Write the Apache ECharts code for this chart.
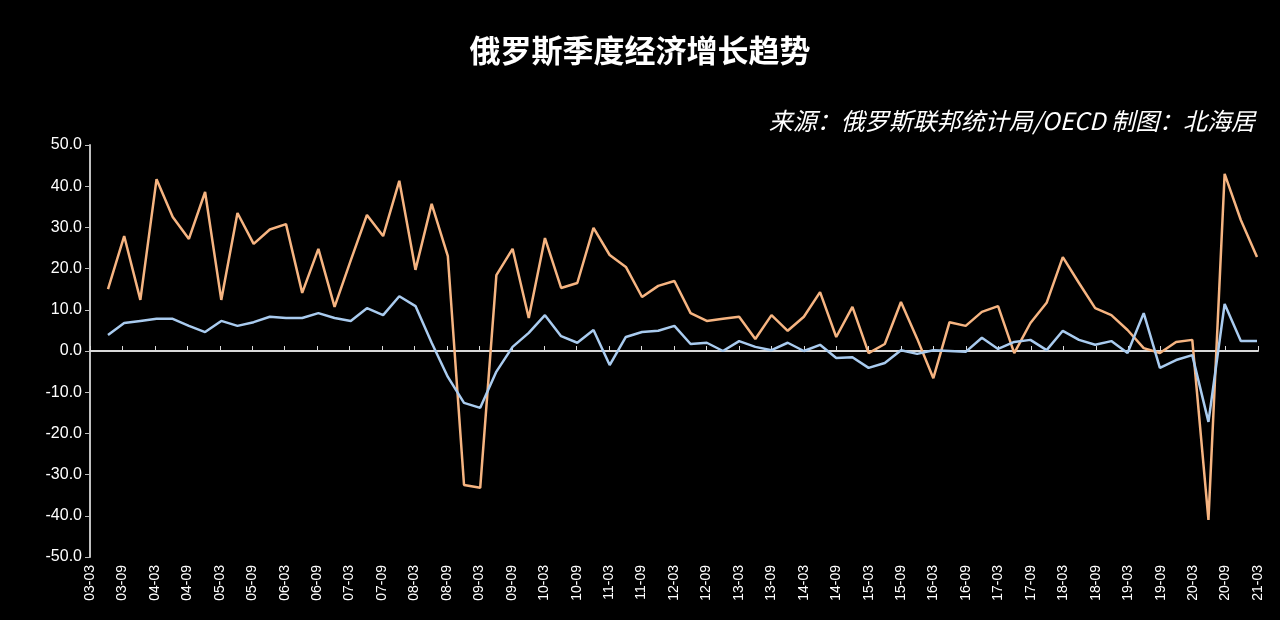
<!DOCTYPE html>
<html><head><meta charset="utf-8">
<script src="https://cdn.jsdelivr.net/npm/echarts@6/dist/echarts.min.js"></script>
<style>html,body{margin:0;background:#000}#c{width:1280px;height:620px}</style>
</head><body><div id="c"></div>
<script>
const categories = [];
for (let y = 3; y <= 21; y++) for (const m of ['03','06','09','12']) { if (y === 21 && m !== '03') break; categories.push(String(y).padStart(2,'0') + '-' + m); }
const dataCategories = categories.slice(0, 72);
const nominalGrowth = [15.0,27.9,12.4,41.7,32.5,27.2,38.6,12.4,33.5,26,29.5,30.8,14.1,24.8,10.7,22,33,27.9,41.3,19.7,35.7,23,-32.5,-33.2,
 18.4,24.8,8.0,27.4,15.3,16.5,29.9,23.3,20.4,13.1,15.8,17,9.2,7.3,7.8,8.3,2.9,8.7,4.9,8.3,14.3,3.4,10.7,-0.5,1.7,11.9,
 3,-6.6,7.0,6.1,9.5,10.9,-0.5,6.8,11.7,22.8,16.5,10.4,8.7,5.1,0.7,-0.5,2.2,2.7,-41,43,31.8,22.8];
const realGrowth = [3.9,6.8,7.3,7.8,7.8,6.1,4.6,7.3,6.1,7.0,8.3,8.0,8.0,9.2,8.0,7.3,10.4,8.7,13.3,10.9,2.0,-6.3,-12.6,-13.8,
 -5,1.0,4.4,8.7,3.6,2.0,5.1,-3.4,3.4,4.6,4.9,6.1,1.7,2.0,0,2.4,1.0,0.2,2.0,0,1.5,-1.7,-1.5,-4.1,-2.9,0.2,
 -0.7,0.2,0,-0.2,3.2,0.5,2.2,2.7,0.2,4.9,2.7,1.5,2.4,-0.5,9.2,-4.1,-2.2,-1,-17.2,11.4,2.4,2.4];
const yTicks = {min:-50,max:50,interval:10};
const chart = echarts.init(document.getElementById('c'));
chart.setOption({
  backgroundColor:'#000',
  title:[{text:'俄罗斯季度经济增长趋势',left:'center',top:30,textStyle:{color:'#fff',fontSize:31,fontWeight:'bold',fontFamily:'Noto Sans CJK SC'}},
         {text:'来源：俄罗斯联邦统计局/OECD 制图：北海居',right:20,top:104,textStyle:{color:'#fff',fontSize:24,fontStyle:'italic',fontWeight:'normal',fontFamily:'Noto Sans CJK SC'}}],
  grid:[{left:90,right:22,top:145,bottom:63},{left:108,right:23,top:145,bottom:63}],
  xAxis:[
    {type:'category',gridIndex:0,data:categories,boundaryGap:false,position:'bottom',axisLine:{onZero:false,show:false},axisTick:{show:false},
     axisLabel:{color:'#fff',rotate:90,fontSize:14,interval:1,fontFamily:'Liberation Sans'}},
    {type:'category',gridIndex:0,data:categories,boundaryGap:false,axisLine:{onZero:true,lineStyle:{color:'#d9d9d9',width:2}},
     axisTick:{show:true,interval:1,length:5,lineStyle:{color:'#d9d9d9'}},axisLabel:{show:false}},
    {type:'category',gridIndex:1,data:dataCategories,boundaryGap:false,show:false}
  ],
  yAxis:[
    {type:'value',gridIndex:0,min:yTicks.min,max:yTicks.max,interval:yTicks.interval,splitLine:{show:false},
    axisLine:{show:true,lineStyle:{color:'#bfbfbf',width:2}},axisTick:{show:true,lineStyle:{color:'#bfbfbf'}},
    axisLabel:{color:'#fff',fontSize:16,fontFamily:'Liberation Sans',formatter:v=>v.toFixed(1)}},
    {type:'value',gridIndex:1,min:yTicks.min,max:yTicks.max,interval:yTicks.interval,show:false,splitLine:{show:false}}
  ],
  series:[
    {type:'line',xAxisIndex:2,yAxisIndex:1,data:nominalGrowth,symbol:'none',lineStyle:{color:'#f6b481',width:2.5},z:2},
    {type:'line',xAxisIndex:2,yAxisIndex:1,data:realGrowth,symbol:'none',lineStyle:{color:'#a9cbef',width:2.5},z:3}
  ]
});
</script></body></html>
